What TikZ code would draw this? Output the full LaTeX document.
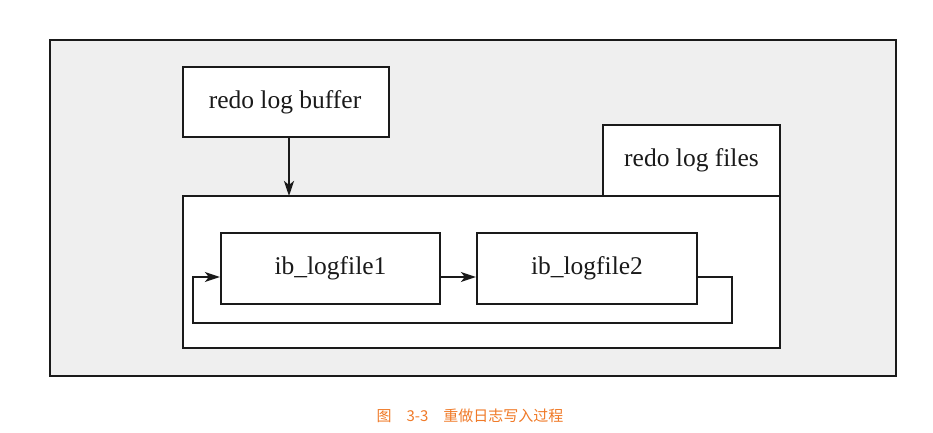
\documentclass[tikz,border=0pt]{standalone}
\usepackage{fontspec}
\setmainfont{Liberation Serif}
\newfontfamily\cjk{Noto Sans CJK SC}
\usetikzlibrary{arrows.meta}
\definecolor{bggrey}{HTML}{EFEFEF}
\definecolor{capor}{HTML}{F07A28}
\definecolor{ln}{HTML}{1A1A1A}
\begin{document}
\begin{tikzpicture}[x=1pt,y=-1pt,
  box/.style={draw=ln,line width=2.3pt,fill=white},
  lbl/.style={font=\fontsize{25.5}{28}\selectfont,text=ln},
  conn/.style={draw=ln,line width=1.5pt},
  tip/.style={-{Stealth[length=15pt,width=10pt,inset=4pt]}}]
\useasboundingbox (0,0) rectangle (933,433);
\fill[white] (0,0) rectangle (933,433);
\draw[draw=ln,line width=1.8pt,fill=bggrey] (50,40) rectangle (896,376);
% redo log files tab and big box
\draw[box] (603,125) rectangle (780,196);
\node[lbl] (files) at (691.5,160) {redo log files};
\draw[box] (183,196) rectangle (780,348);
\coordinate (bigtop) at (289,196);
% buffer
\draw[box] (183,67) rectangle (389,137);
\node[lbl] (buffer) at (285,102) {redo log buffer};
\coordinate (buftop) at (289,137);
\draw[conn,line width=2.5pt,tip] (buftop) -- (bigtop);
% logfiles
\node[box,minimum width=219pt,minimum height=71pt,inner sep=0pt] (f1) at (330.5,268.5) {};
\node[lbl] at (f1) {ib\_logfile1};
\node[box,minimum width=220pt,minimum height=71pt,inner sep=0pt] (f2) at (587,268.5) {};
\node[lbl] at (f2) {ib\_logfile2};
\draw[conn,tip] ([yshift=-8.5pt]f1.east) -- ([yshift=-8.5pt]f2.west);
\coordinate (c1) at (732,277);
\coordinate (c2) at (732,323);
\coordinate (c3) at (193,323);
\coordinate (c4) at (193,277);
\draw[conn,tip] ([yshift=-8.5pt]f2.east) -- (c1) -- (c2) -- (c3) -- (c4) -- ([yshift=-8.5pt]f1.west);
% caption
\node[font=\cjk\fontsize{15}{17}\selectfont,text=capor] (cap) at (470,416) {图\quad 3-3\quad 重做日志写入过程};
\end{tikzpicture}
\end{document}
